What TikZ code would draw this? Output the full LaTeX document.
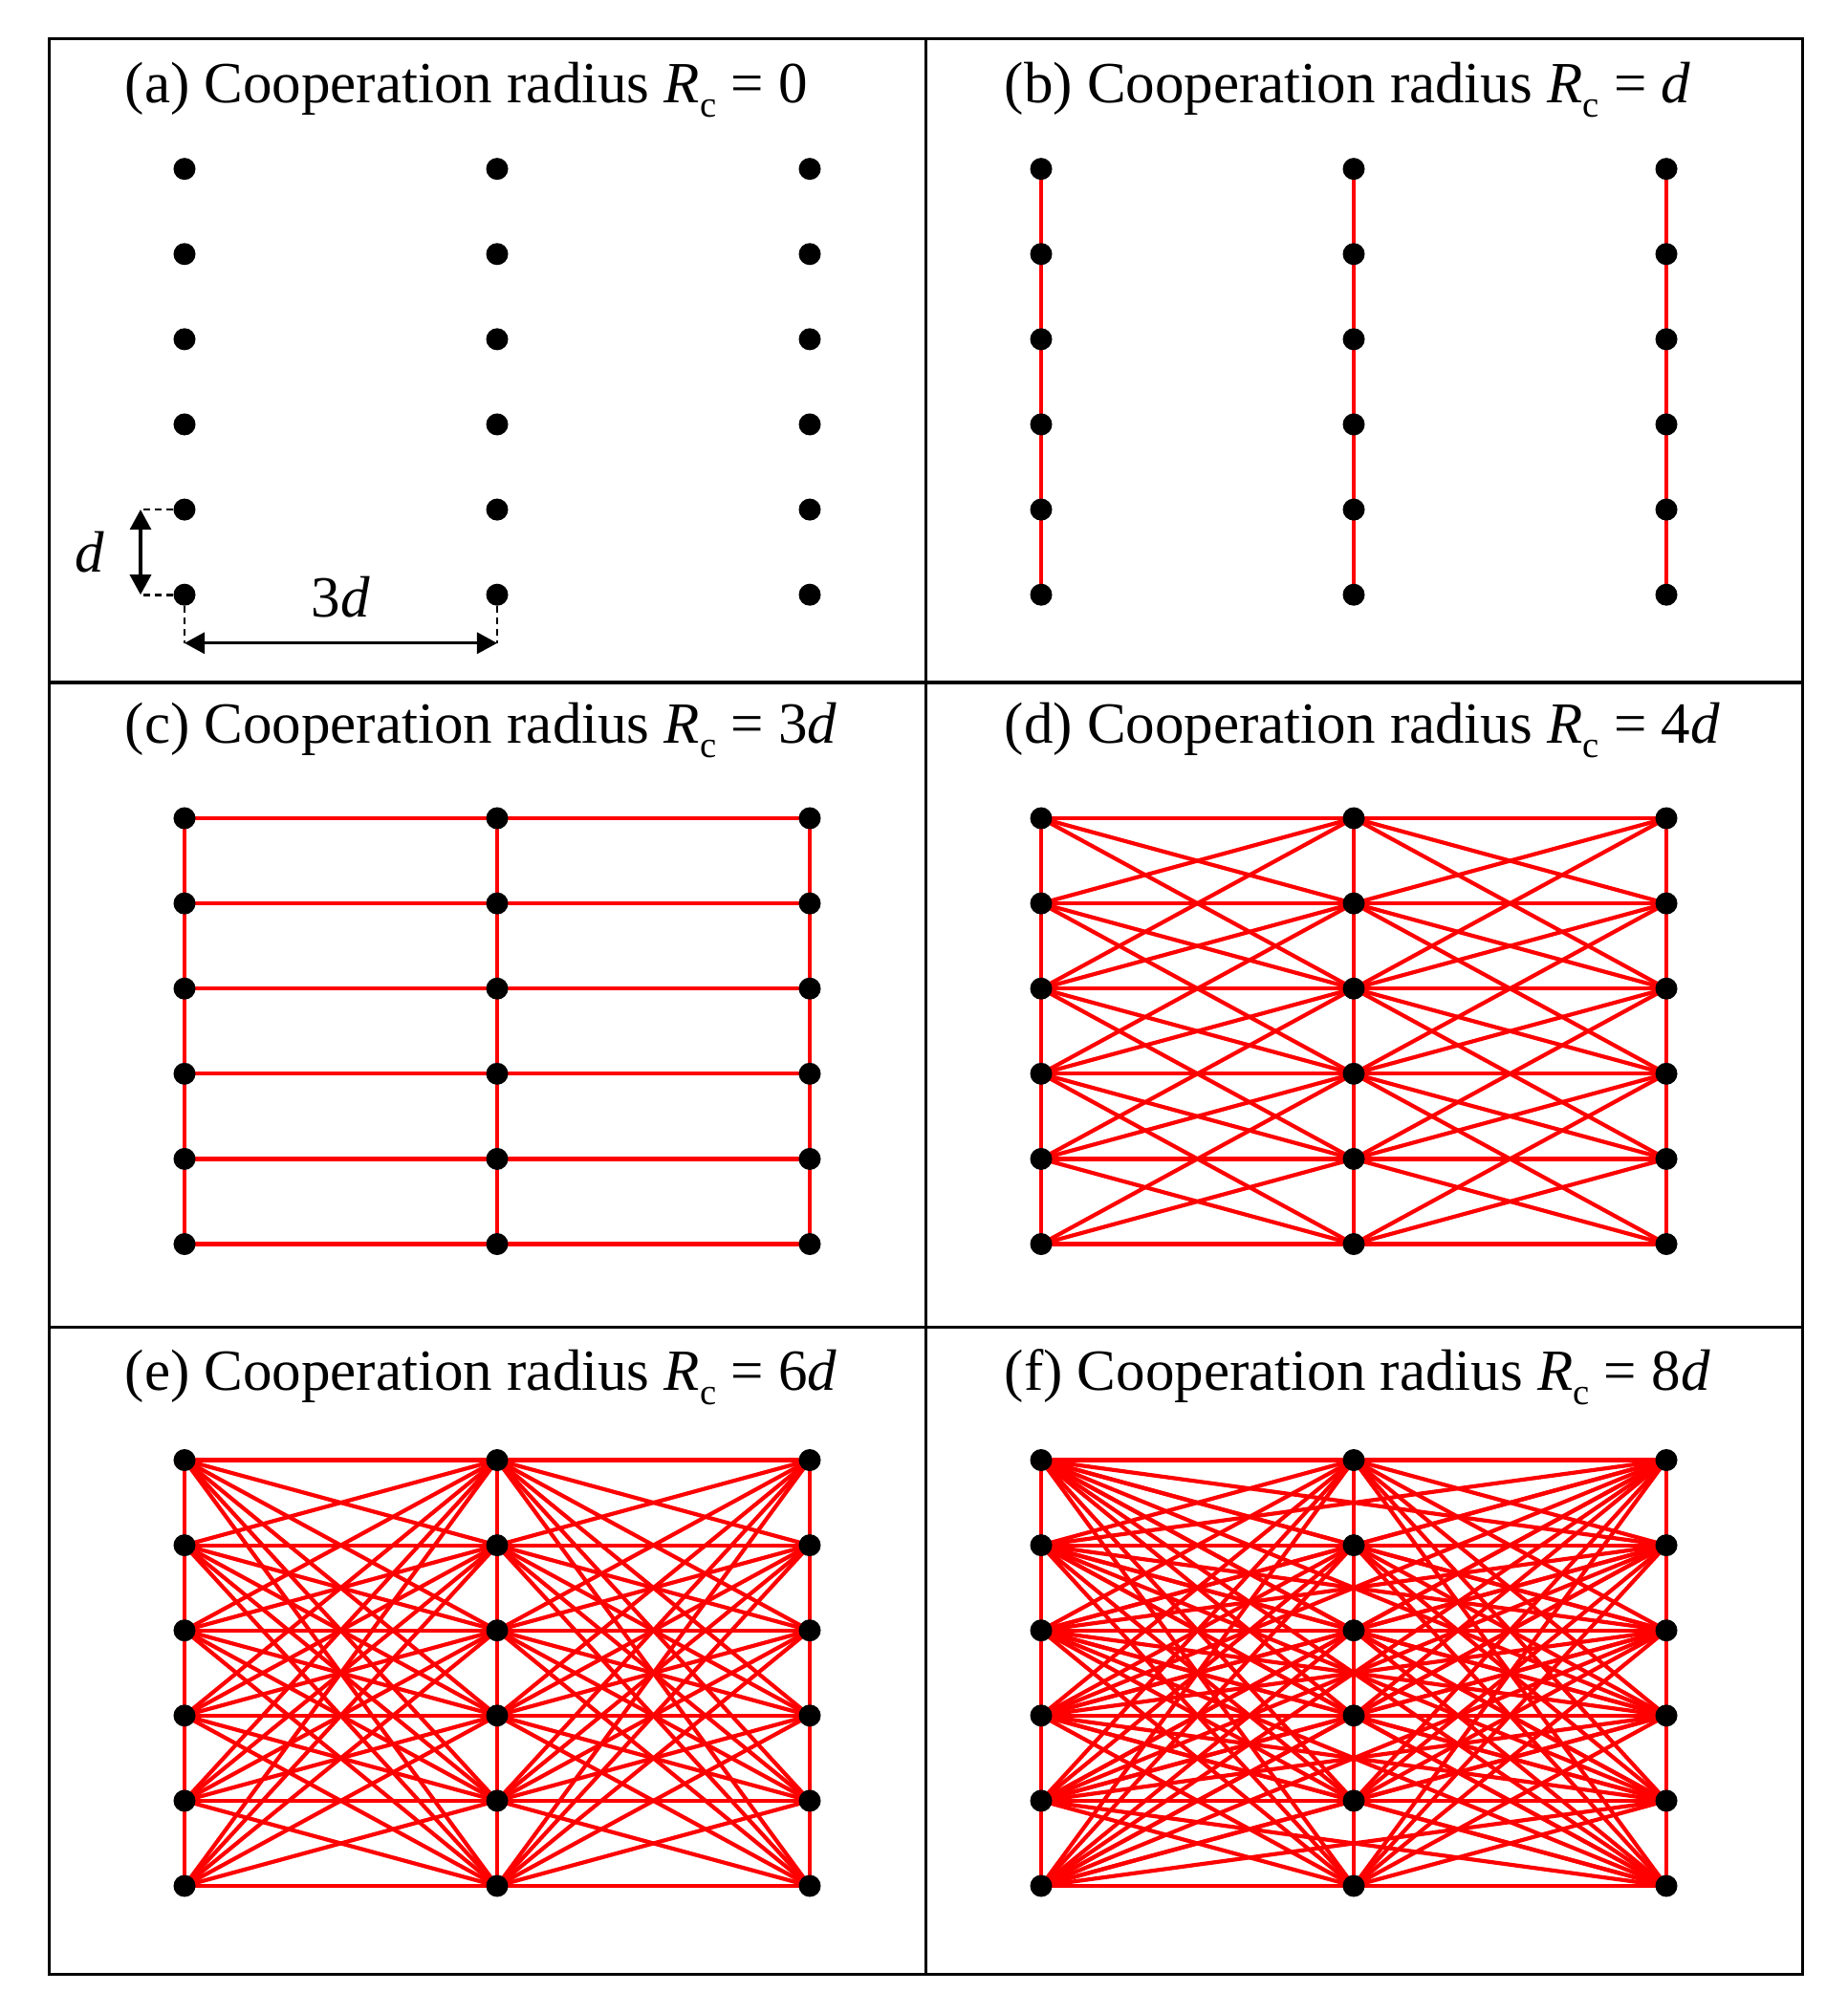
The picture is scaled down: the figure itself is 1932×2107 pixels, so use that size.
\documentclass[tikz,border=0pt]{standalone}
\usepackage{fontspec}
\setmainfont{Liberation Serif}
\usetikzlibrary{arrows.meta,positioning,calc,backgrounds}

% subscript c of the radius symbol
\newcommand{\radc}{\textit{R}\raisebox{-0.25em}{\fontsize{11}{12}\selectfont c}}

% edges of one panel: every pair of dots closer than the radius (#2 = R^2 in d^2)
\newcommand{\coopedges}[2]{%
  \foreach \ci in {1,2,3} \foreach \ri in {1,...,6}
    \foreach \cj in {1,2,3} \foreach \rj in {1,...,6} {
      \pgfmathtruncatemacro{\keep}{((\cj>\ci) || (\cj==\ci && \rj>\ri)) && (9*(\cj-\ci)^2+(\rj-\ri)^2 <= #2)}
      \ifnum\keep=1 \draw[link] (#1-\ci-\ri.center) -- (#1-\cj-\rj.center); \fi
    }%
}

\begin{document}
\begin{tikzpicture}[x=0.01cm, y=-0.01cm, >={Triangle[length=2.1mm,width=2.2mm]},
    font=\fontsize{17.35}{21}\selectfont]
  % Styles
  \tikzstyle{dot} = [circle, fill=black, inner sep=0pt, minimum size=2.3mm]
  \tikzstyle{link} = [red, line width=0.42mm]
  \tikzstyle{frame} = [line width=0.3mm]
  \tikzstyle{title} = [anchor=base west, inner sep=0pt]
  \tikzstyle{guide} = [line width=0.28mm, dash pattern=on 0.7mm off 0.5mm]
  \tikzstyle{dim} = [<->, line width=0.32mm]

  \useasboundingbox (0,0) rectangle (1932,2107);

  % Frame
  \draw[frame] (51,40.5) rectangle (1885.7,2065);
  \draw[frame] (968.4,40.5) -- (968.4,2065);
  \draw[frame] (51,714) -- (1885.7,714);
  \draw[frame] (51,1388.3) -- (1885.7,1388.3);

  % Titles
  \node[title] (title-a) at (130,107.3) {(a) Cooperation radius \radc{} = 0};
  \node[title] (title-b) at (1050,107.3) {(b) Cooperation radius \radc{} = \textit{d}};
  \node[title] (title-c) at (130,777.5) {(c) Cooperation radius \radc{} = 3\textit{d}};
  \node[title] (title-d) at (1050,777.5) {(d) Cooperation radius \radc{} = 4\textit{d}};
  \node[title] (title-e) at (130,1454.5) {(e) Cooperation radius \radc{} = 6\textit{d}};
  \node[title] (title-f) at (1050,1454.5) {(f) Cooperation radius \radc{} = 8\textit{d}};

  % Nodes
  \foreach \p/\x/\y in {a/193/176.7, b/1089/176.7, c/193/856, d/1089/856, e/193/1527.5, f/1089/1527.5}
    \foreach \c in {1,2,3} \foreach \r in {1,...,6}
      \node[dot] (\p-\c-\r) at (\x+327*\c-327, \y+89.1*\r-89.1) {};

  % Connections
  \begin{scope}[on background layer]
    \coopedges{b}{1}
    \coopedges{c}{9}
    \coopedges{d}{16}
    \coopedges{e}{36}
    \coopedges{f}{64}
  \end{scope}

  % Spacing marks
  \coordinate (d-up) at ($(a-1-5)+(-46,0)$);
  \coordinate (d-low) at ($(a-1-6)+(-46,0)$);
  \coordinate (w-left) at ($(a-1-6)+(0,50.6)$);
  \coordinate (w-right) at ($(a-2-6)+(0,50.6)$);
  \draw[guide] (a-1-5) -- (d-up);
  \draw[guide] (a-1-6) -- (d-low);
  \draw[guide] (a-1-6) -- (w-left);
  \draw[guide] (a-2-6) -- (w-right);
  \draw[dim] (d-up) -- node[left=3.6mm, inner sep=0pt] {\textit{d}} (d-low);
  \draw[dim] (w-left) -- node[above=2.5mm, inner sep=0pt] {3\textit{d}} (w-right);
\end{tikzpicture}
\end{document}
